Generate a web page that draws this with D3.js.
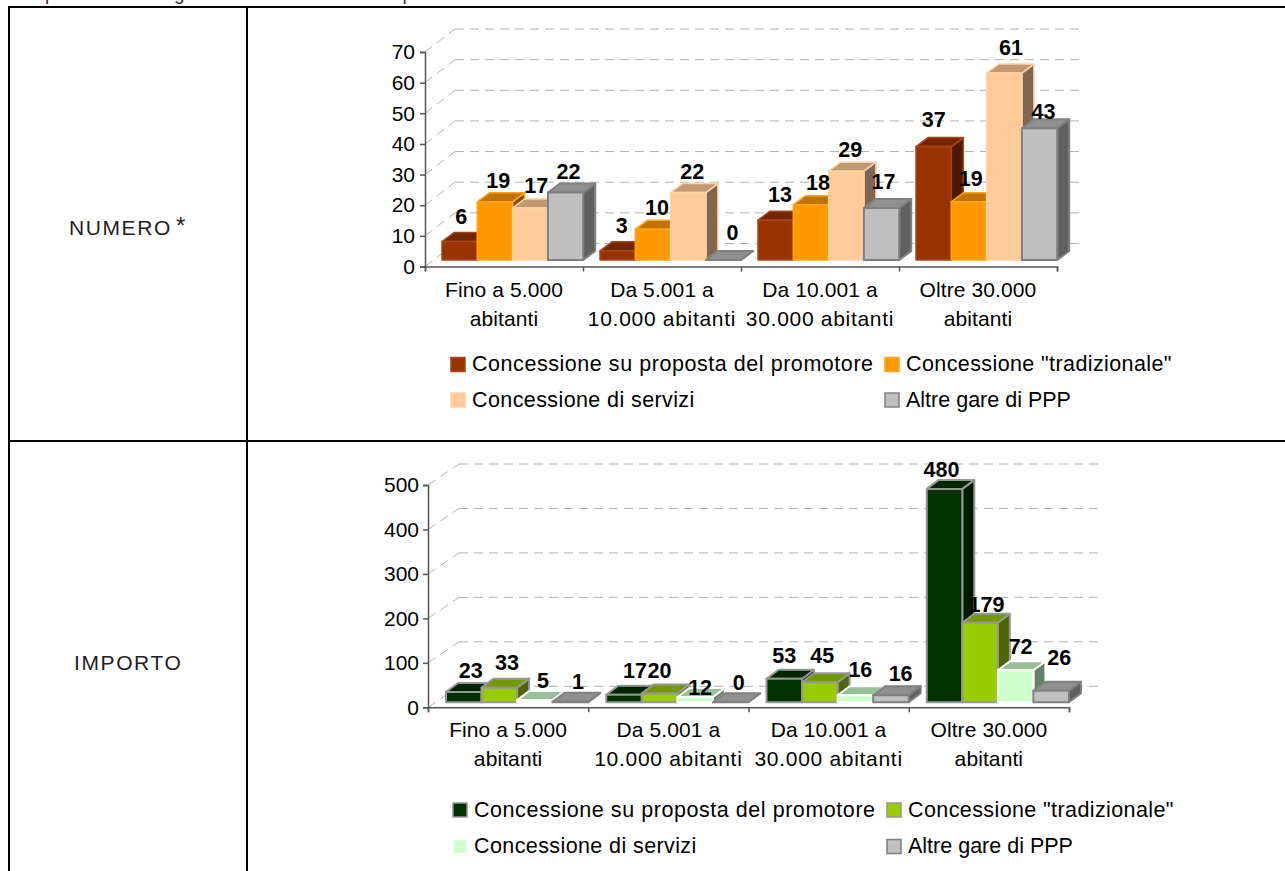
<!DOCTYPE html>
<html><head><meta charset="utf-8">
<script src="https://cdn.jsdelivr.net/npm/d3@7"></script>
<style>html,body{margin:0;padding:0;background:#fff;overflow:hidden}svg{display:block}text{font-family:"Liberation Sans",Arial,sans-serif;fill:#000}</style>
</head><body><svg id="c" width="1285" height="871"></svg>
<script>
const categories = [["Fino a 5.000","abitanti"],["Da 5.001 a","10.000 abitanti"],["Da 10.001 a","30.000 abitanti"],["Oltre 30.000","abitanti"]];
const seriesNames = ["Concessione su proposta del promotore","Concessione \"tradizionale\"","Concessione di servizi","Altre gare di PPP"];
const numeroValues = [[6,3,13,37],[19,10,18,19],[17,22,29,61],[22,0,17,43]];
const importoValues = [[23,17,53,480],[33,20,45,179],[5,12,16,72],[1,0,16,26]];
const numeroTicks = [0,10,20,30,40,50,60,70];
const importoTicks = [0,100,200,300,400,500];

// per-label nudges (series × category) relative to the bar's front-top centre
const numeroNudge = [[[1.6,-17.6],[4,-18],[4.4,-18],[0,-20]],[[3.3,-14],[4,-14],[7,-15],[1.7,-16]],[[6,-15],[4,-13.7],[4,-14],[6.7,-18]],[[3,-13.7],[9,-20],[2,-19],[4,-9.4]]];
const importoNudge = [[[7,-14],[11,-17],[0,-15.7],[-3,-12]],[[7.7,-17.6],[0,-15],[2.5,-19],[6.4,-11]],[[8,-12],[5,-2],[5,-18],[5,-16]],[[7.6,-13],[8,-12],[9.7,-14],[8,-26]]];

const svg = d3.select("#c");

// clipped caption line and table rules
svg.append("text").attr("x",6).attr("y",-0.5).attr("font-size",19).attr("letter-spacing",1).attr("word-spacing",10).style("fill","#333").text("campione della gara contenuto nella procedura");
const rules = [[8,7,1285,7],[9,6,9,871],[247,6,247,871],[8,441,1285,441]];
svg.selectAll("line.rule").data(rules).join("line").attr("class","rule")
  .attr("x1",d=>d[0]).attr("y1",d=>d[1]).attr("x2",d=>d[2]).attr("y2",d=>d[3]).attr("stroke","#000").attr("stroke-width",2);
svg.append("text").attr("x",69).attr("y",234.5).attr("font-size",21).attr("letter-spacing",1.6).style("fill","#222").text("NUMERO");
svg.append("text").attr("x",176).attr("y",234).attr("font-size",24).style("fill","#222").text("*");
svg.append("text").attr("x",74).attr("y",670).attr("font-size",21).attr("letter-spacing",1.6).style("fill","#222").text("IMPORTO");

function chart(o){
  const g = svg.append("g");
  const x = d3.scaleLinear().domain([0,4]).range([o.x0,o.x0+4*o.cw]);
  const y = d3.scaleLinear().domain([0,o.max]).range([o.y0,o.yTop]);
  const h = v=>y(0)-y(v);
  // back wall grid
  const grid = o.ticks;
  g.selectAll("line.g").data(grid).join("line")
    .attr("x1",o.x0+o.wallDx).attr("x2",o.gridEnd).attr("y1",d=>y(d)-o.wallDy).attr("y2",d=>y(d)-o.wallDy)
    .attr("stroke","#b2b2b2").attr("stroke-width",1).attr("stroke-dasharray","9,6");
  g.selectAll("line.d").data(grid).join("line")
    .attr("x1",o.x0).attr("x2",o.x0+o.wallDx).attr("y1",d=>y(d)).attr("y2",d=>y(d)-o.wallDy)
    .attr("stroke","#b2b2b2").attr("stroke-width",1).attr("stroke-dasharray","9,6");
  // axes
  const ax = g.append("g").attr("transform",`translate(${o.x0},0)`)
    .call(d3.axisLeft(y).tickValues(grid).tickSize(5).tickPadding(o.tickPad));
  ax.selectAll("text").attr("font-size",21).style("font-family","'Liberation Sans',sans-serif");
  ax.selectAll("path,line").attr("stroke","#555").attr("stroke-width",1.5);
  const bx = g.append("g").attr("transform",`translate(0,${o.y0})`)
    .call(d3.axisBottom(x).tickValues([0,1,2,3,4]).tickSize(5).tickFormat(""));
  bx.selectAll("path,line").attr("stroke","#555").attr("stroke-width",1.5);
  categories.forEach((c,i)=>{
    c.forEach((t,k)=>g.append("text").attr("x",x(i+.5)).attr("y",o.labelY+k*o.labelGap)
      .attr("text-anchor","middle").attr("font-size",21).attr("letter-spacing",t.length>12?.7:.1).text(t));
  });
  // bars
  const bw=o.bw, dx=o.dx, dy=o.dy;
  const barBase=o.base;
  const Y = v=>barBase-h(v);
  o.values.forEach((vals,s)=>{
    vals.forEach((v,c)=>{
      const L=x(c)+o.barOff+s*bw, R=L+bw, T=Y(v), B=barBase;
      const b=g.append("g").attr("stroke",o.stroke[s]).attr("stroke-width",o.strokeW[s]).attr("stroke-linejoin","round");
      if(v>0) b.append("path").attr("d",`M${R},${T}L${R+dx},${T-dy}L${R+dx},${B-dy}L${R},${B}Z`).attr("fill",o.side[s]);
      b.append("path").attr("d",`M${L},${T}L${L+dx},${T-dy}L${R+dx},${T-dy}L${R},${T}Z`).attr("fill",o.top[s]);
      if(v>0) b.append("rect").attr("x",L).attr("y",T).attr("width",bw).attr("height",B-T).attr("fill",o.fill[s]);
    });
  });
  // data labels
  o.values.forEach((vals,s)=>vals.forEach((v,c)=>{
    const L=x(c)+o.barOff+s*bw; const n=o.nudge[s][c];
    g.append("text").attr("x",L+bw/2+n[0]).attr("y",Y(v)+n[1]).attr("text-anchor","middle")
      .attr("font-size",21.5).attr("font-weight","bold").text(v);
  }));
  // legend
  seriesNames.forEach((t,i)=>{
    const cx=i%2?o.legX2:o.legX1, cy=o.legY[i>>1];
    g.append("rect").attr("x",cx).attr("y",cy-7).attr("width",14).attr("height",14).attr("fill",o.fill[i])
      .attr("stroke",o.legStroke[i]).attr("stroke-width",1.5);
    g.append("text").attr("x",cx+21).attr("y",cy+6.5).attr("font-size",21.5).attr("letter-spacing",i==3?0:(i==0?.55:.4)).text(t);
  });
}
chart({x0:425,cw:158,y0:266.5,yTop:52,max:70,ticks:numeroTicks,wallDx:30,wallDy:23,gridEnd:1085,labelY:296.5,labelGap:29,tickPad:5,
  bw:35.3,barOff:17,dx:12,dy:9,base:260,values:numeroValues,nudge:numeroNudge,
  fill:["#993300","#ff9900","#ffcc99","#c0c0c0"],top:["#732600","#bf7300","#bf9973","#909090"],side:["#4d1a00","#804d00","#806650","#606060"],
  stroke:["#a8451a","#ffa31a","#ffd1a3","#808080"],strokeW:[1.5,1.5,1.5,2],legStroke:["#a8451a","#ffa31a","#ffd1a3","#808080"],legX1:451,legX2:885,legY:[364.5,400]});
chart({x0:428,cw:160.25,y0:707.3,yTop:485,max:500,ticks:importoTicks,wallDx:31,wallDy:21,gridEnd:1100,labelY:737,labelGap:29,tickPad:4,
  bw:35.55,barOff:18,dx:12,dy:9,base:702.3,values:importoValues,nudge:importoNudge,
  fill:["#003300","#99cc00","#ccffcc","#c0c0c0"],top:["#002600","#739900","#99bf99","#909090"],side:["#001a00","#4d6600","#668066","#606060"],
  stroke:["#969696","#969696","#ffffff","#808080"],strokeW:[2,2,2,2],legStroke:["#969696","#969696","#ffffff","#808080"],legX1:453,legX2:887,legY:[810,846.5]});
</script></body></html>
